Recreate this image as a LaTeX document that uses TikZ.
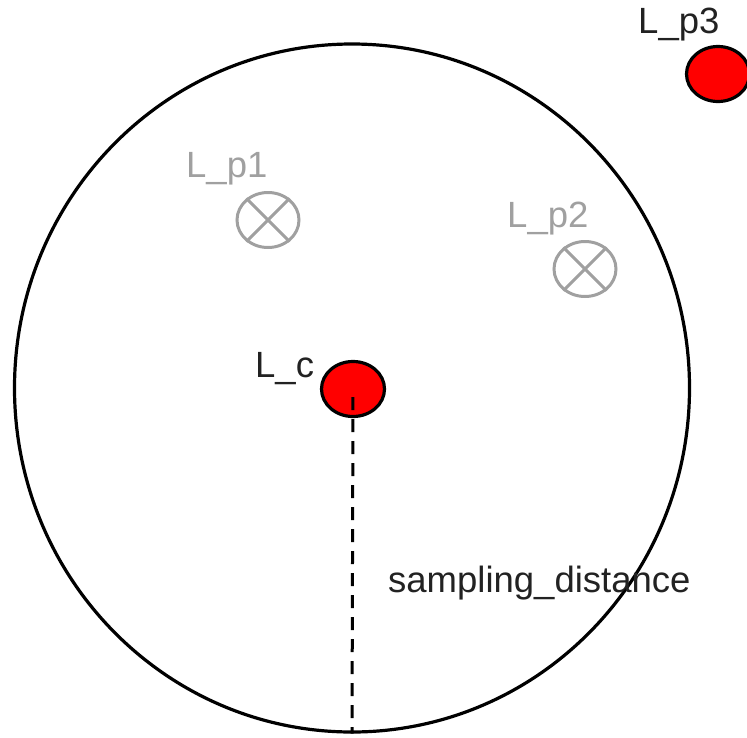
\documentclass[tikz,border=0pt]{standalone}
\usepackage{fontspec}
\setmainfont{Liberation Sans}
\usetikzlibrary{shapes.geometric}

\definecolor{markgray}{HTML}{A0A0A0}
\definecolor{lightred}{HTML}{FF0000}
\definecolor{textblack}{HTML}{222222}

\begin{document}
\begin{tikzpicture}[
    x=1pt, y=-1pt,
    light/.style={ellipse, draw, line width=3.2pt, fill=lightred, inner sep=0pt, minimum width=63pt, minimum height=55pt},
    probe/.style={ellipse, draw=markgray, line width=3pt, inner sep=0pt, minimum width=62pt, minimum height=55pt},
    lbl/.style={anchor=base west, inner sep=0pt, text=textblack, font=\fontsize{36.5}{42}\selectfont},
    graylbl/.style={lbl, text=markgray}
  ]
    \clip (0,0) rectangle (747,737);
    % sampling range
    \node[ellipse, draw, line width=3.2pt, inner sep=0pt, minimum width=675pt, minimum height=688pt] (range) at (352,388) {};
    % candidate positions
    \node[probe] (p1) at (268,220) {};
    \draw[markgray, line width=3pt] (p1.45) -- (p1.225) (p1.135) -- (p1.315);
    \node[probe] (p2) at (585,269) {};
    \draw[markgray, line width=3pt] (p2.45) -- (p2.225) (p2.135) -- (p2.315);
    \node[graylbl] (p1lbl) at (186,177) {L\_p1};
    \node[graylbl] (p2lbl) at (507,227) {L\_p2};
    % lights
    \node[light] (lc) at (353,389) {};
    \node[light] (p3) at (718,74) {};
    \node[lbl] (lclbl) at (255,377) {L\_c};
    \node[lbl] (p3lbl) at (638,33) {L\_p3};
    \draw[line width=3pt, dash pattern=on 13pt off 9pt, dash phase=-8pt] (lc.center) -- (range.south);
    \node[lbl] (distlbl) at (388,592) {sampling\_distance};
  \end{tikzpicture}
\end{document}
